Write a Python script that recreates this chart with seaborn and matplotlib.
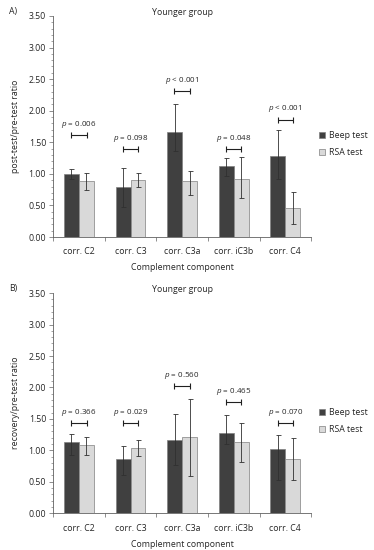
import pandas as pd
import numpy as np
import seaborn as sns
import matplotlib.pyplot as plt
from matplotlib.ticker import MultipleLocator

sns.set_style('white')
plt.rcParams['font.family'] = ['Open Sans', 'DejaVu Sans']
plt.rcParams['mathtext.fontset'] = 'custom'
plt.rcParams['mathtext.it'] = 'Open Sans:italic'

categories = ['corr. C2', 'corr. C3', 'corr. C3a', 'corr. iC3b', 'corr. C4']
groups = ['Beep test', 'RSA test']

# panel A: post-test / pre-test
a_beep = [1.00, 0.80, 1.66, 1.13, 1.29]
a_beep_lo = [0.92, 0.48, 1.37, 0.97, 0.92]
a_beep_hi = [1.08, 1.10, 2.10, 1.25, 1.69]
a_rsa = [0.89, 0.91, 0.89, 0.92, 0.46]
a_rsa_lo = [0.74, 0.80, 0.66, 0.62, 0.21]
a_rsa_hi = [1.02, 1.02, 1.04, 1.27, 0.72]
a_pvals = ['= 0.006', '= 0.098', '< 0.001', '= 0.048', '< 0.001']
a_bracket = [1.61, 1.40, 2.31, 1.40, 1.86]

# panel B: recovery / pre-test
b_beep = [1.13, 0.86, 1.17, 1.27, 1.02]
b_beep_lo = [0.93, 0.61, 0.77, 1.10, 0.53]
b_beep_hi = [1.26, 1.07, 1.58, 1.56, 1.24]
b_rsa = [1.08, 1.04, 1.21, 1.13, 0.86]
b_rsa_lo = [0.93, 0.91, 0.59, 0.82, 0.52]
b_rsa_hi = [1.21, 1.16, 1.82, 1.44, 1.20]
b_pvals = ['= 0.366', '= 0.029', '= 0.560', '= 0.465', '= 0.070']
b_bracket = [1.43, 1.43, 2.03, 1.77, 1.43]

fig = plt.figure(figsize=(3.74, 5.5), dpi=100)
axA = fig.add_axes([0.142, 0.569, 0.690, 0.402])
axB = fig.add_axes([0.142, 0.067, 0.690, 0.400])

fs = 6.3


def panel(ax, beep, blo, bhi, rsa, rlo, rhi, pvals, brk, ylabel, letter):
    df = pd.DataFrame({'component': categories * 2,
                       'group': [groups[0]] * 5 + [groups[1]] * 5,
                       'ratio': beep + rsa})
    sns.barplot(data=df, x='component', y='ratio', hue='group', ax=ax,
                palette=['#404040', '#d9d9d9'], errorbar=None, width=0.58,
                gap=0, edgecolor='#808080', linewidth=0.5)
    # error bars
    vals = beep + rsa
    lo = blo + rlo
    hi = bhi + rhi
    xs = []
    for cont in ax.containers:
        for p in cont:
            xs.append(p.get_x() + p.get_width() / 2)
    vals = np.array(vals)
    yerr = [vals - np.array(lo), np.array(hi) - vals]
    ax.errorbar(xs, vals, yerr=yerr, fmt='none', ecolor='#303030',
                elinewidth=0.6, capsize=1.8, capthick=0.6)
    # significance brackets
    for i in range(len(categories)):
        y = brk[i]
        ax.errorbar([i], [y], xerr=[[0.15], [0.15]], fmt='none',
                    ecolor='#202020', elinewidth=0.8, capsize=2, capthick=0.8)
        ax.text(i, y + 0.08, '$p$ ' + pvals[i], ha='center', va='bottom',
                fontsize=fs - 0.5)
    ax.set_ylim(0, 3.5)
    ax.set_xlim(-0.5, 4.5)
    ax.yaxis.set_major_locator(MultipleLocator(0.5))
    ax.yaxis.set_minor_locator(MultipleLocator(0.1))
    ax.yaxis.set_major_formatter(lambda v, pos: f'{v:.2f}')
    ax.tick_params(axis='y', which='major', left=True, length=3, width=0.5,
                   labelsize=fs, pad=2, color='#606060')
    ax.tick_params(axis='y', which='minor', left=True, length=1.5, width=0.4,
                   color='#606060')
    ax.set_xticks(np.arange(-0.5, 5, 1), minor=True)
    ax.tick_params(axis='x', which='major', bottom=False, labelsize=fs, pad=4)
    ax.tick_params(axis='x', which='minor', bottom=True, length=3, width=0.5,
                   color='#606060')
    for s in ['top', 'right']:
        ax.spines[s].set_visible(False)
    for s in ['left', 'bottom']:
        ax.spines[s].set_color('#606060')
        ax.spines[s].set_linewidth(0.6)
    ax.set_xlabel('Complement component', fontsize=fs, labelpad=5)
    ax.set_ylabel(ylabel, fontsize=fs, labelpad=6)
    ax.set_title('Younger group', fontsize=fs, pad=1)
    ax.legend(loc='center left', bbox_to_anchor=(1.0, 0.42), frameon=False,
              fontsize=fs, handlelength=0.7, handleheight=0.7,
              handletextpad=0.4, labelspacing=0.9)
    ax.text(-0.17, 1.02, letter, transform=ax.transAxes, fontsize=fs,
            ha='left', va='center')


panel(axA, a_beep, a_beep_lo, a_beep_hi, a_rsa, a_rsa_lo, a_rsa_hi,
      a_pvals, a_bracket, 'post-test/pre-test ratio', 'A)')
panel(axB, b_beep, b_beep_lo, b_beep_hi, b_rsa, b_rsa_lo, b_rsa_hi,
      b_pvals, b_bracket, 'recovery/pre-test ratio', 'B)')

fig.savefig('out.png', dpi=100)
